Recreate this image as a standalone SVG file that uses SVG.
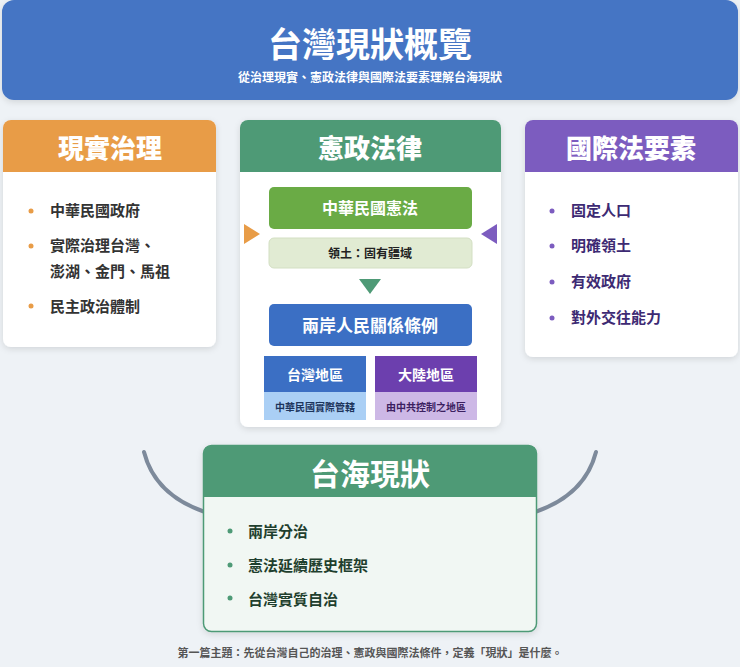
<svg xmlns="http://www.w3.org/2000/svg" width="740" height="667" viewBox="0 0 740 667">
<defs>
<filter id="sh" x="-10%" y="-10%" width="120%" height="130%"><feDropShadow dx="0" dy="2" stdDeviation="3" flood-color="#000" flood-opacity="0.12"/></filter>
<style>
text{font-family:"Noto Sans CJK TC","Noto Sans CJK SC",sans-serif;font-weight:700}
.ct{font-size:26px;fill:#fff;text-anchor:middle;font-weight:900}
.li{font-size:15px;fill:#333}
.w{fill:#fff;text-anchor:middle}
</style>
</defs>
<rect width="740" height="667" fill="#eef2f6"/>
<g id="header">
<rect x="2" y="0" width="736" height="100" rx="12" fill="#4474c4" filter="url(#sh)"/>
<text x="370" y="57" class="w" font-size="34" font-weight="900">台灣現狀概覽</text>
<text x="370" y="82" class="w" font-size="12">從治理現實、憲政法律與國際法要素理解台海現狀</text>
</g>
<g id="governance">
<rect x="3" y="120" width="213" height="227" rx="8" fill="#fff" filter="url(#sh)"/>
<path d="M3,172 V128 a8,8 0 0 1 8,-8 H208 a8,8 0 0 1 8,8 V172 Z" fill="#e89c47"/>
<text x="110" y="158" class="ct">現實治理</text>
<g fill="#e89c47"><circle cx="31" cy="211" r="2.5"/><circle cx="31" cy="246" r="2.5"/><circle cx="31" cy="306" r="2.5"/></g>
<text x="50" y="216" class="li">中華民國政府</text>
<text x="50" y="251" class="li">實際治理台灣、</text>
<text x="50" y="277" class="li">澎湖、金門、馬祖</text>
<text x="50" y="312" class="li">民主政治體制</text>
</g>
<g id="constitution">
<rect x="240" y="120" width="261" height="307" rx="8" fill="#fff" filter="url(#sh)"/>
<path d="M240,172 V128 a8,8 0 0 1 8,-8 H493 a8,8 0 0 1 8,8 V172 Z" fill="#4e9a76"/>
<text x="370" y="158" class="ct">憲政法律</text>
<rect x="269" y="187" width="203" height="42" rx="5" fill="#6aab45"/>
<text x="370" y="214" class="w" font-size="16">中華民國憲法</text>
<rect x="269" y="238" width="203" height="30" rx="5" fill="#e1ebd3" stroke="#d3dfc3"/>
<text x="370" y="258" font-size="12" fill="#222" text-anchor="middle">領土：固有疆域</text>
<rect x="269" y="304" width="203" height="42" rx="5" fill="#3b6fc4"/>
<text x="370" y="332" class="w" font-size="17">兩岸人民關係條例</text>
<rect x="264" y="356" width="102" height="36" fill="#3b6fc4"/>
<rect x="264" y="392" width="102" height="28" fill="#aacff5"/>
<text x="315" y="380" class="w" font-size="14">台灣地區</text>
<text x="315" y="411" font-size="10" fill="#1d355c" text-anchor="middle">中華民國實際管轄</text>
<rect x="375" y="356" width="102" height="36" fill="#6c3fae"/>
<rect x="375" y="392" width="102" height="28" fill="#cdb8e6"/>
<text x="426" y="380" class="w" font-size="14">大陸地區</text>
<text x="426" y="411" font-size="10" fill="#3b2060" text-anchor="middle">由中共控制之地區</text>
</g>
<g id="intl">
<rect x="525" y="120" width="213" height="237" rx="8" fill="#fff" filter="url(#sh)"/>
<path d="M525,172 V128 a8,8 0 0 1 8,-8 H730 a8,8 0 0 1 8,8 V172 Z" fill="#7c5cbf"/>
<text x="631" y="158" class="ct">國際法要素</text>
<g fill="#7c5cbf"><circle cx="552" cy="211" r="2.5"/><circle cx="552" cy="246" r="2.5"/><circle cx="552" cy="282" r="2.5"/><circle cx="552" cy="318" r="2.5"/></g>
<g fill="#3d2a73" font-size="15"><text x="571" y="216">固定人口</text><text x="571" y="251">明確領土</text><text x="571" y="287">有效政府</text><text x="571" y="323">對外交往能力</text></g>
</g>
<g id="connectors" fill="none" stroke="#7d8a9b" stroke-width="4" stroke-linecap="round">
<path d="M144,452 Q155,495 205,512"/>
<path d="M596,452 Q585,495 535,512"/>
<polygon points="244,224 260,234 244,244" fill="#e89c47" stroke="none"/>
<polygon points="497,224 481,234 497,244" fill="#7c5cbf" stroke="none"/>
<polygon points="359,279 381,279 370,294" fill="#4e9a76" stroke="none"/>
</g>
<g id="status">
<rect x="203.5" y="445.5" width="333" height="186" rx="8" fill="#f1f7f3" stroke="#4e9a76" stroke-width="1.5" filter="url(#sh)"/>
<path d="M203.5,497 V453.5 a8,8 0 0 1 8,-8 H528.5 a8,8 0 0 1 8,8 V497 Z" fill="#4e9a76"/>
<text x="370" y="485" class="w" font-size="30" font-weight="900">台海現狀</text>
<g fill="#4e9a76"><circle cx="230" cy="531" r="2.5"/><circle cx="230" cy="565" r="2.5"/><circle cx="230" cy="598" r="2.5"/></g>
<g fill="#1f3f2e" font-size="15"><text x="248" y="537">兩岸分治</text><text x="248" y="571">憲法延續歷史框架</text><text x="248" y="605">台灣實質自治</text></g>
</g>
<text x="370" y="657" font-size="11" fill="#555" text-anchor="middle">第一篇主題：先從台灣自己的治理、憲政與國際法條件，定義「現狀」是什麼。</text>
</svg>
